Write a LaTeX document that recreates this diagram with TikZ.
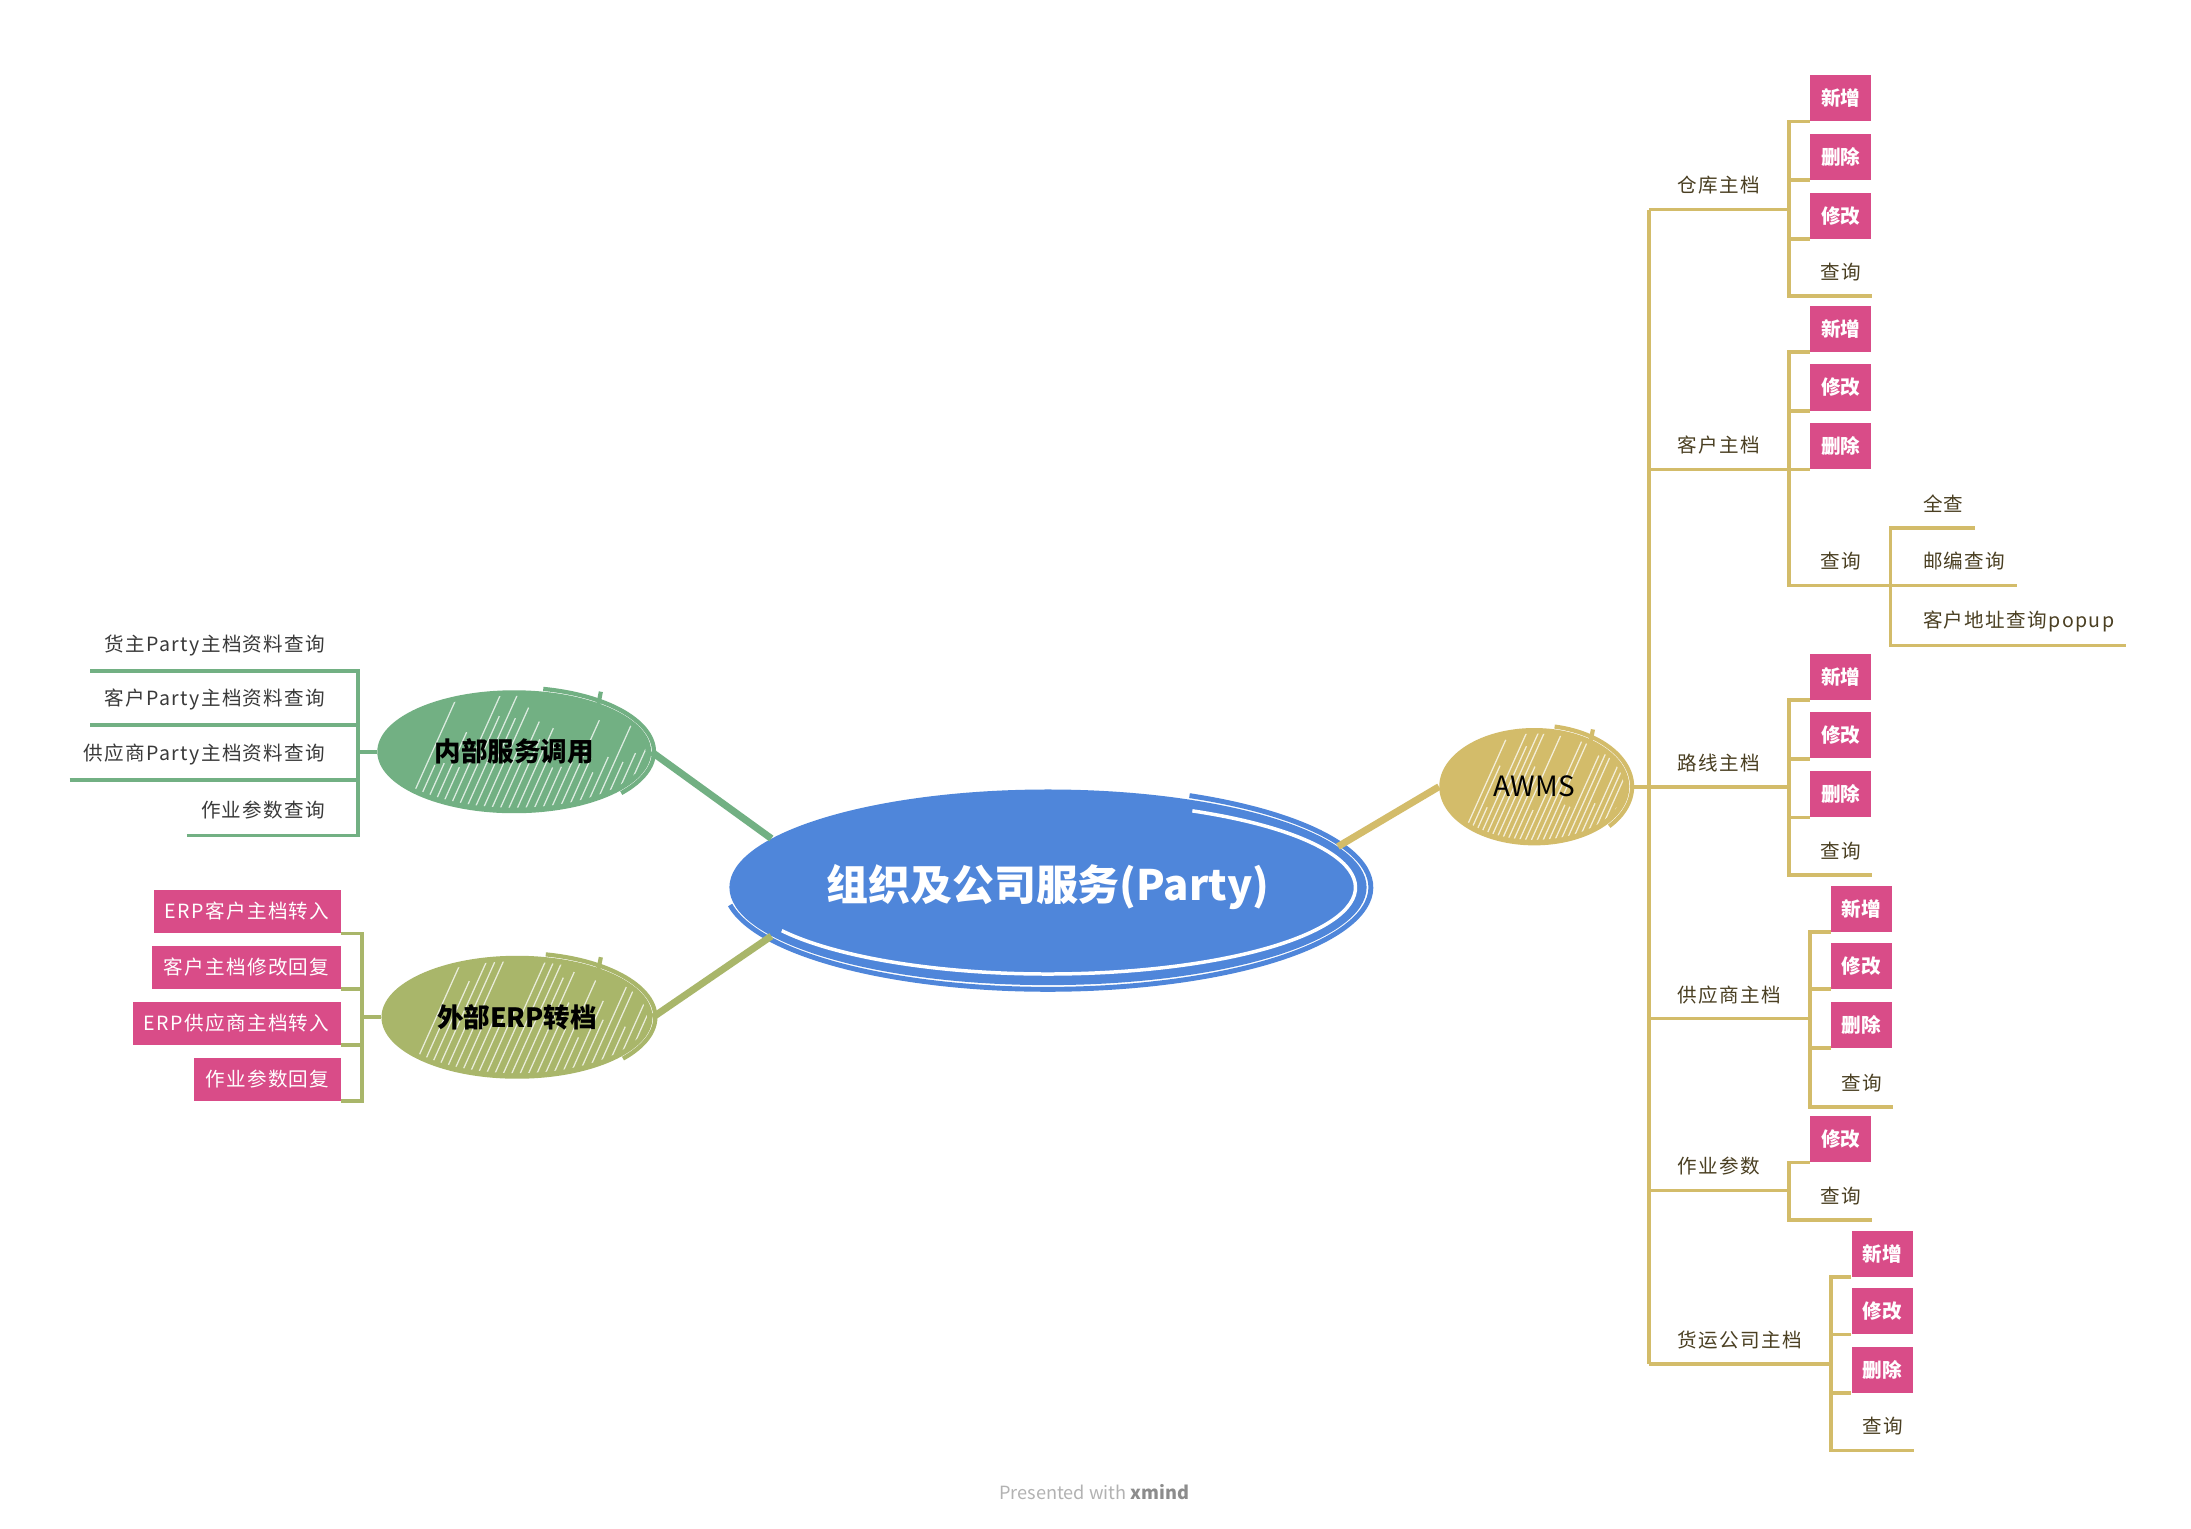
\documentclass[tikz,border=0pt]{standalone}
\usepackage{fontspec}
\setmainfont{Noto Sans CJK SC}
\newfontfamily\spacedfont[LetterSpace=7]{Noto Sans CJK SC}
\usetikzlibrary{shapes.geometric}
\definecolor{cblue}{HTML}{4F86DA}
\definecolor{cgreen}{HTML}{72B083}
\definecolor{colive}{HTML}{A9B66A}
\definecolor{cgold}{HTML}{D3BC6A}
\definecolor{cpink}{HTML}{D94C88}
\definecolor{ctext}{HTML}{4A3F22}
\definecolor{ltext}{HTML}{3A3A3A}
\newcommand\myhatch[4]{%
 \begin{scope}
  \clip (#1,#2) ellipse ({#3-4} and {#4-4});
  \foreach \k in {0,...,30}{%
    \pgfmathsetmacro\xa{#1-0.8*#3+\k*0.062*#3}
    \pgfmathsetmacro\len{25+70*rnd}
    \draw[white, line width=0.9pt, opacity=0.75] (\xa,#2+#4) -- ++(0.45*\len,-\len);
  }
 \end{scope}}
\tikzset{
  x=1pt, y=-1pt,
  ul/.style={append after command={(\tikzlastnode.south west) edge[draw=#1, line width=2.6pt] (\tikzlastnode.south east)}},
  gline/.style={draw=cgold, line width=2.6pt},
  grline/.style={draw=cgreen, line width=2.6pt},
  olline/.style={draw=colive, line width=2.6pt},
  mainconn/.style={line width=5pt},
  lab/.style={font=\spacedfont\fontsize{14}{16}\selectfont, inner sep=0pt, minimum height=34pt},
  cat/.style={lab, anchor=south west, text=ctext, ul=cgold},
  qry/.style={lab, anchor=south west, minimum width=44pt, text=ctext, ul=cgold},
  sub/.style={lab, anchor=south west, inner xsep=8pt, text=ctext, ul=cgold},
  box/.style={anchor=south west, fill=cpink, minimum width=44pt, minimum height=33pt, inner sep=0pt,
              text=white, font=\bfseries\fontsize{14}{16}\selectfont},
  lleaf/.style={lab, anchor=south east, inner xsep=10pt, minimum height=36pt, text=ltext, ul=cgreen},
  lbox/.style={anchor=south east, fill=cpink, minimum height=31pt, inner xsep=8pt, inner ysep=0pt,
               text=white, font=\spacedfont\fontsize{14}{16}\selectfont},
  topic/.style={ellipse, inner sep=0pt, font=\bfseries\fontsize{19}{21}\selectfont, text=black},
  rim/.style={line width=3pt},
}
\begin{document}
\begin{tikzpicture}
\pgfmathsetseed{7}
\fill[white] (0,0) rectangle (1568,1094);
\useasboundingbox (0,0) rectangle (1568,1094);

% ---------- central topic ----------
\fill[cblue] (750,635) ellipse (228 and 70);
\draw[cblue, line width=3.5pt] (750+231*0.4384,635-73*0.8988) arc[start angle=-64, end angle=170, x radius=231, y radius=73];
\draw[white, line width=2.5pt] (853.3,580.3) arc[start angle=-62, end angle=150, x radius=220, y radius=62];
\node[ellipse, minimum width=456pt, minimum height=140pt, inner sep=0pt, text=white,
      font=\bfseries\fontsize{30}{33}\selectfont] (root) at (750,635) {组织及公司服务(Party)};

% ---------- main topics ----------
\fill[cgreen] (368,538) ellipse (98 and 44);
\myhatch{368}{538}{98}{44}
\draw[cgreen, rim] (368+100*0.2079,538-46*0.9781) arc[start angle=-78, end angle=40, x radius=100, y radius=46];
\draw[cgreen, line width=3pt] (430,495) -- (428,505);
\node[topic, minimum width=196pt, minimum height=88pt] (inner) at (368,538) {内部服务调用};

\fill[colive] (370,728) ellipse (97 and 44);
\myhatch{370}{728}{97}{44}
\draw[colive, rim] (370+99*0.2079,728-46*0.9781) arc[start angle=-78, end angle=40, x radius=99, y radius=46];
\draw[colive, line width=3pt] (430,685) -- (428,695);
\node[topic, minimum width=194pt, minimum height=88pt] (erp) at (370,728) {外部ERP转档};

\fill[cgold] (1098,563) ellipse (68 and 42);
\myhatch{1098}{563}{68}{42}
\draw[cgold, rim] (1098+70*0.2079,563-44*0.9781) arc[start angle=-78, end angle=40, x radius=70, y radius=44];
\draw[cgold, line width=3pt] (1140,522) -- (1138,532);
\node[topic, font=\fontsize{20}{22}\selectfont, minimum width=136pt, minimum height=84pt] (awms) at (1098,563) {AWMS};

\draw[cgreen, mainconn] (inner.east) -- (root.170);
\draw[colive, mainconn] (erp.east) -- (root.190);
\draw[cgold, mainconn] (root.8) -- (awms.west);

% ---------- AWMS branch ----------
\node[cat, minimum width=100pt] (wh) at (1180,150) {仓库主档};
\node[cat, minimum width=100pt] (cu) at (1180,336) {客户主档};
\node[cat, minimum width=100pt] (rt) at (1180,563) {路线主档};
\node[cat, minimum width=115pt] (sp) at (1180,729) {供应商主档};
\node[cat, minimum width=100pt] (op) at (1180,852) {作业参数};
\node[cat, minimum width=130pt] (fr) at (1180,976) {货运公司主档};
\draw[gline] (wh.south west) -- (fr.south west);
\draw[gline] (awms.east) -- (rt.south west);

% 仓库主档
\node[box] (wh1) at (1295,87) {新增};
\node[box] (wh2) at (1295,129) {删除};
\node[box] (wh3) at (1295,171) {修改};
\node[qry] (wh4) at (1295,212) {查询};
\foreach \n in {wh1,wh2,wh3,wh4} \draw[gline] (wh.south east) |- (\n.south west);

% 客户主档
\node[box] (cu1) at (1295,252) {新增};
\node[box] (cu2) at (1295,294) {修改};
\node[box] (cu3) at (1295,336) {删除};
\node[qry] (cu4) at (1295,419) {查询};
\foreach \n in {cu1,cu2,cu3,cu4} \draw[gline] (cu.south east) |- (\n.south west);
\node[sub] (cq1) at (1368,378) {全查};
\node[sub] (cq2) at (1368,419) {邮编查询};
\node[sub] (cq3) at (1368,462) {客户地址查询popup};
\coordinate (cqs) at (1353,419);
\draw[gline] (cu4.south east) -- (cqs);
\foreach \n in {cq1,cq2,cq3} \draw[gline] (cqs) |- (\n.south west);

% 路线主档
\node[box] (rt1) at (1295,501) {新增};
\node[box] (rt2) at (1295,543) {修改};
\node[box] (rt3) at (1295,585) {删除};
\node[qry] (rt4) at (1295,626) {查询};
\foreach \n in {rt1,rt2,rt3,rt4} \draw[gline] (rt.south east) |- (\n.south west);

% 供应商主档
\node[box] (sp1) at (1310,667) {新增};
\node[box] (sp2) at (1310,708) {修改};
\node[box] (sp3) at (1310,750) {删除};
\node[qry] (sp4) at (1310,792) {查询};
\foreach \n in {sp1,sp2,sp3,sp4} \draw[gline] (sp.south east) |- (\n.south west);

% 作业参数
\node[box] (op1) at (1295,832) {修改};
\node[qry] (op2) at (1295,873) {查询};
\foreach \n in {op1,op2} \draw[gline] (op.south east) |- (\n.south west);

% 货运公司主档
\node[box] (fr1) at (1325,914) {新增};
\node[box] (fr2) at (1325,955) {修改};
\node[box] (fr3) at (1325,997) {删除};
\node[qry] (fr4) at (1325,1038) {查询};
\foreach \n in {fr1,fr2,fr3,fr4} \draw[gline] (fr.south east) |- (\n.south west);

% ---------- 内部服务调用 branch ----------
\node[lleaf] (l1) at (243,480) {货主Party主档资料查询};
\node[lleaf] (l2) at (243,519) {客户Party主档资料查询};
\node[lleaf] (l3) at (243,558) {供应商Party主档资料查询};
\node[lleaf] (l4) at (243,598) {作业参数查询};
\coordinate (lsp) at (256,538);
\draw[grline] (inner.west) -- (lsp);
\foreach \n in {l1,l2,l3,l4} \draw[grline] (lsp) |- (\n.south east);

% ---------- 外部ERP转档 branch ----------
\node[lbox] (e1) at (244,668) {ERP客户主档转入};
\node[lbox] (e2) at (244,708) {客户主档修改回复};
\node[lbox] (e3) at (244,748) {ERP供应商主档转入};
\node[lbox] (e4) at (244,788) {作业参数回复};
\coordinate (esp) at (259,728);
\draw[olline] (erp.west) -- (esp);
\foreach \n in {e1,e2,e3,e4} \draw[olline] (esp) |- (\n.south east);

% ---------- footer ----------
\node[font=\fontsize{13}{15}\selectfont, text=black!30] (foot) at (783,1068) {Presented with \textcolor{black!45}{\bfseries xmind}};
\end{tikzpicture}
\end{document}
